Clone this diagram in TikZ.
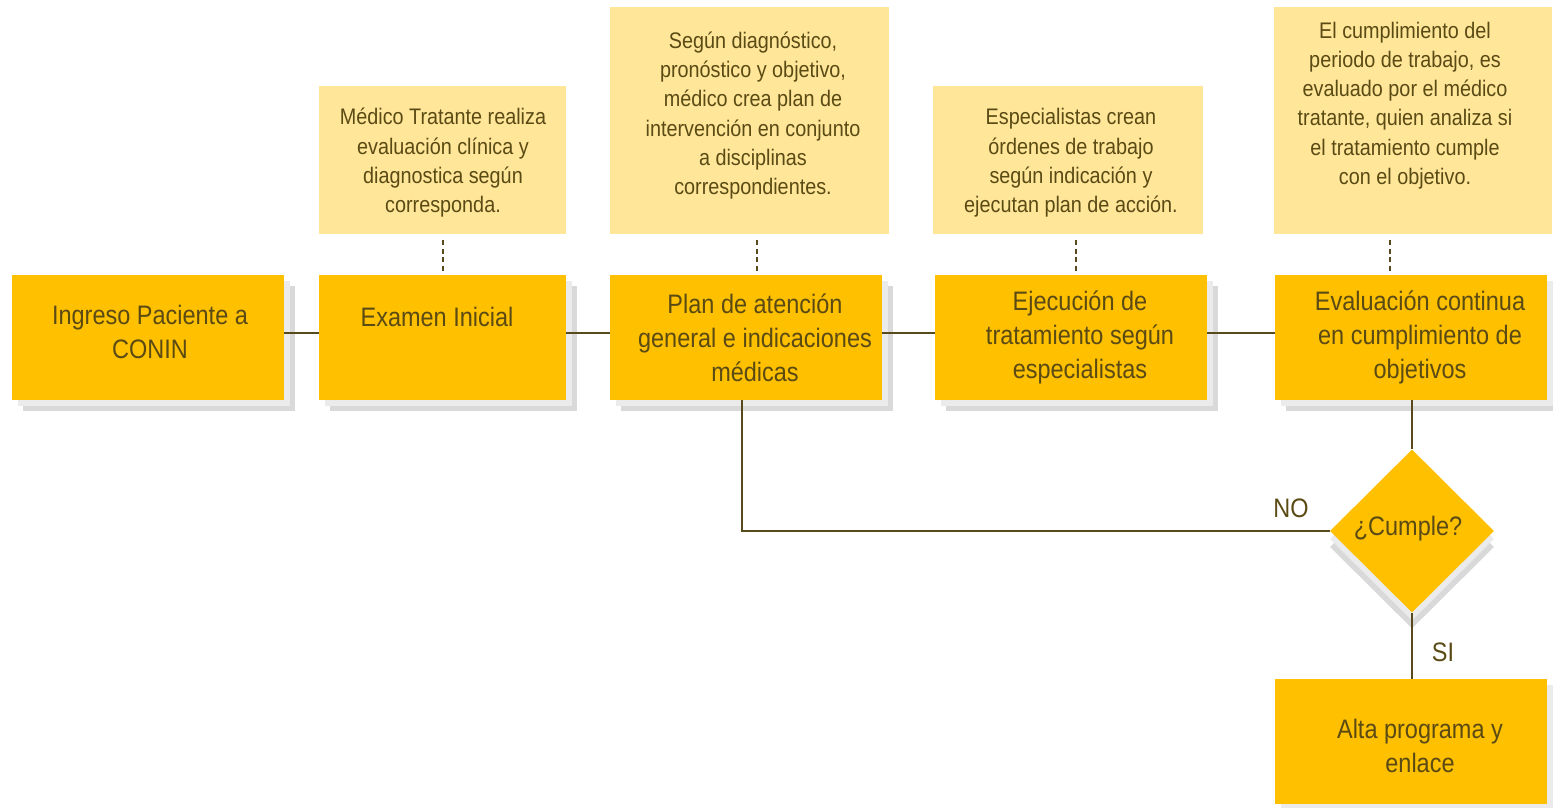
\documentclass[tikz,border=0pt]{standalone}
\usepackage{fontspec}
\setmainfont{Liberation Sans}[FakeStretch=0.88]
\usetikzlibrary{shapes.geometric,shadows}
\definecolor{gold}{HTML}{FFC000}
\definecolor{notec}{HTML}{FFE699}
\definecolor{txt}{HTML}{5A4A14}
\definecolor{linec}{HTML}{594A1E}
\definecolor{shlight}{HTML}{EBEBEB}
\definecolor{shdark}{HTML}{D9D9D9}
\newcommand{\bigtxt}{\fontsize{26.7}{34}\selectfont}
\newcommand{\smalltxt}{\fontsize{22.5}{29.3}\selectfont}
\tikzset{
  mainbox/.style={rectangle, fill=gold, inner sep=0pt, minimum width=272pt, minimum height=125pt,
    general shadow={fill=shdark, shadow xshift=11pt, shadow yshift=-11pt},
    general shadow={fill=shlight, shadow xshift=6pt, shadow yshift=-6pt}},
  notebox/.style={rectangle, fill=notec, inner sep=0pt},
  boxtext/.style={text=txt, align=center, inner sep=0pt, font=\bigtxt},
  notetext/.style={text=txt, align=center, inner sep=0pt, font=\smalltxt},
  decision/.style={diamond, fill=gold, inner sep=0pt, minimum width=164pt, minimum height=163pt,
    general shadow={fill=shdark, shadow xshift=0pt, shadow yshift=-16pt},
    general shadow={fill=shlight, shadow xshift=0pt, shadow yshift=-8pt}},
  link/.style={draw=linec, line width=2pt},
  dashlink/.style={draw=linec, line width=2pt, dash pattern=on 5pt off 3.5pt},
}
\begin{document}
\begin{tikzpicture}[x=1pt,y=-1pt]
\useasboundingbox (0,0) rectangle (1553,808);
% note boxes
\node[notebox, minimum width=247pt, minimum height=148pt] (n1) at (442.5,160) {};
\node[notebox, minimum width=279pt, minimum height=227pt] (n2) at (749.5,120.5) {};
\node[notebox, minimum width=270pt, minimum height=148pt] (n3) at (1068,160) {};
\node[notebox, minimum width=278pt, minimum height=227pt] (n4) at (1413,120.5) {};
\node[notetext] (nt1) at (443,163) {Médico Tratante realiza\\evaluación clínica y\\diagnostica según\\corresponda.};
\node[notetext] (nt2) at (753,115.5) {Según diagnóstico,\\pronóstico y objetivo,\\médico crea plan de\\intervención en conjunto\\a disciplinas\\correspondientes.};
\node[notetext] (nt3) at (1071,163) {Especialistas crean\\órdenes de trabajo\\según indicación y\\ejecutan plan de acción.};
\node[notetext] (nt4) at (1405,105.5) {El cumplimiento del\\periodo de trabajo, es\\evaluado por el médico\\tratante, quien analiza si\\el tratamiento cumple\\con el objetivo.};
% main boxes
\node[mainbox] (b1) at (148,337.5) {};
\node[mainbox, minimum width=247pt] (b2) at (442.5,337.5) {};
\node[mainbox] (b3) at (746,337.5) {};
\node[mainbox] (b4) at (1071,337.5) {};
\node[mainbox] (b5) at (1411,337.5) {};
\node[mainbox] (b6) at (1411,741.5) {};
\node[decision] (d) at (1412,531) {};
\node[boxtext] (t1) at (150,332) {Ingreso Paciente a\\CONIN};
\node[boxtext] (t2) at (437,317) {Examen Inicial};
\node[boxtext] (t3) at (755,337.5) {Plan de atención\\general e indicaciones\\médicas};
\node[boxtext] (t4) at (1080,337.5) {Ejecución de\\tratamiento según\\especialistas};
\node[boxtext] (t5) at (1420,337.5) {Evaluación continua\\en cumplimiento de\\objetivos};
\node[boxtext] (t6) at (1420,746) {Alta programa y\\enlace};
\node[boxtext] (dt) at (1408,529) {¿Cumple?};
% connectors
\draw[link] ([yshift=4.5pt]b1.east) -- ([yshift=4.5pt]b2.west);
\draw[link] ([yshift=4.5pt]b2.east) -- ([yshift=4.5pt]b3.west);
\draw[link] ([yshift=4.5pt]b3.east) -- ([yshift=4.5pt]b4.west);
\draw[link] ([yshift=4.5pt]b4.east) -- ([yshift=4.5pt]b5.west);
\draw[link] (b5.south -| d.north) -- (d.north);
\draw[link] (d.south) -- (b6.north -| d.south);
\draw[link] (d.west) -| ([xshift=-4pt]b3.south);
\draw[dashlink] ([yshift=-6pt]n1.south) -- ([yshift=3pt]b2.north);
\draw[dashlink] ([xshift=7.5pt,yshift=-6pt]n2.south) -- ([xshift=11pt,yshift=3pt]b3.north);
\draw[dashlink] ([xshift=8pt,yshift=-6pt]n3.south) -- ([xshift=5pt,yshift=3pt]b4.north);
\draw[dashlink] ([xshift=-23pt,yshift=-6pt]n4.south) -- ([xshift=-21pt,yshift=3pt]b5.north);
% labels
\node[boxtext] (no) at (1291,508) {NO};
\node[boxtext] (si) at (1443,652) {SI};
\end{tikzpicture}
\end{document}
